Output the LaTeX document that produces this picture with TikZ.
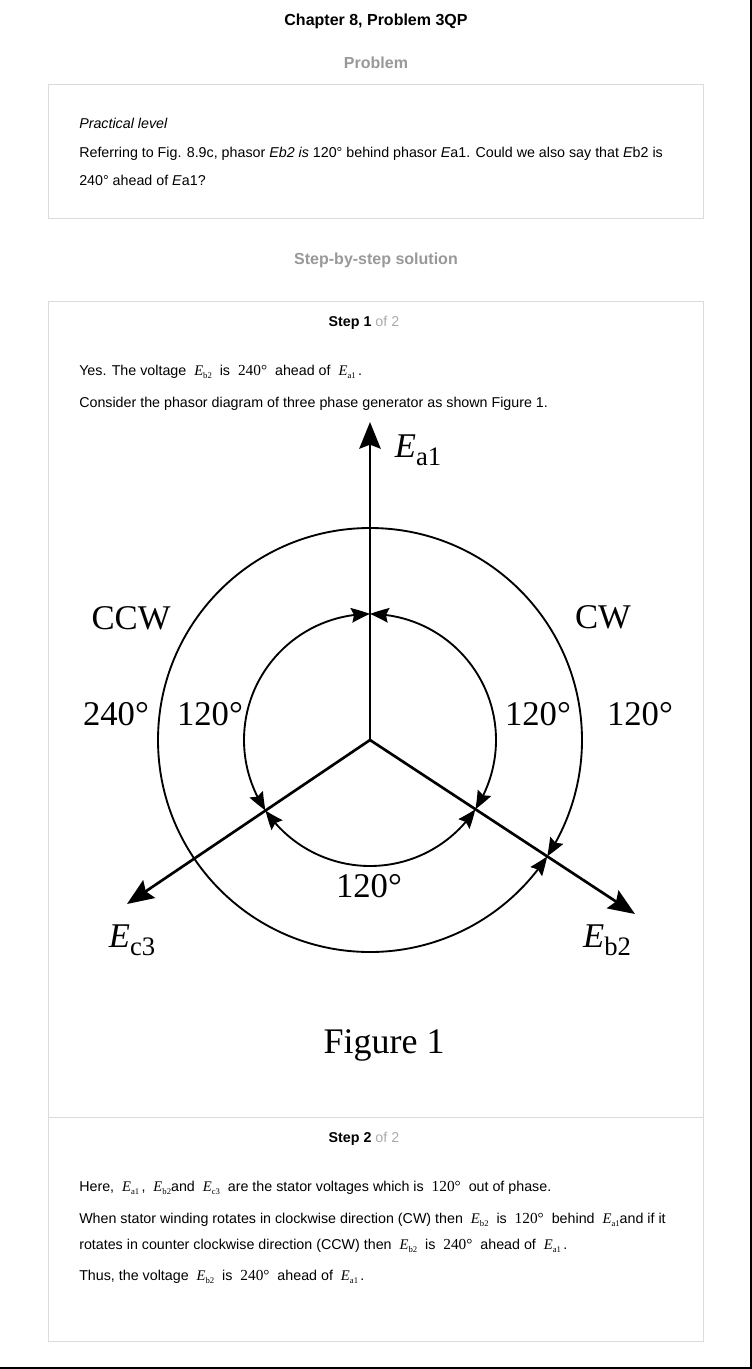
\documentclass[tikz,border=0pt]{standalone}
\usepackage{fontspec}
\setmainfont{Liberation Sans}
\newfontfamily\figfont{Liberation Serif}
\usetikzlibrary{arrows.meta,bending}
\newcommand{\boxcol}{black!14}
\newcommand{\headcol}{black!40}
\newcommand{\stepcol}{black!33}
\newcommand{\phlabel}[1]{\textit{E}\raisebox{-6pt}{\fontsize{20}{20}\selectfont #1}}
\newcommand{\inlE}[1]{{\figfont\fontsize{11}{11}\selectfont\textit{E}\raisebox{-2pt}{\fontsize{6.5}{6.5}\selectfont #1}}}
\newcommand{\inlang}[1]{{\figfont\fontsize{11.5}{11.5}\selectfont #1°}}

\begin{document}
\begin{tikzpicture}[x=0.75pt, y=0.75pt,
    body/.style={anchor=west, inner sep=0pt, font=\fontsize{10.7}{12}\selectfont},
    head/.style={inner sep=0pt, font=\bfseries\fontsize{12}{14}\selectfont},
    fig/.style={inner sep=0pt, font=\figfont\fontsize{26}{30}\selectfont},
    phasor/.style={line width=2pt, -{Stealth[length=20pt, width=16pt, inset=3pt]}},
    ring/.style={line width=1.4pt},
    >={Stealth[length=14pt, width=11pt, inset=2pt, bend]}]

    \fill[white] (0, 0) rectangle (752, -1369);
    \useasboundingbox (0, 0) rectangle (752, -1369);
    \draw[line width=1.5pt] (751, 0) -- (751, -1369);
    \draw[line width=1.5pt] (0, -1367.5) -- (752, -1367.5);

    % problem
    \node[head] (title) at (376, -21) {Chapter 8, Problem 3QP};
    \node[head, \headcol] (probhead) at (376, -63) {Problem};
    \draw[\boxcol] (48, -84) rectangle (703, -218);
    \node[body] (practical) at (79, -123) {\textit{Practical level}};
    \node[body] (refer1) at (79, -154) {Referring to Fig. 8.9c, phasor \textit{Eb2 is} 120° behind phasor \textit{E}a1. Could we also say that \textit{E}b2 is};
    \node[body] (refer2) at (79, -180) {240° ahead of \textit{E}a1?};

    % solution
    \node[head, \headcol] (solhead) at (376, -260) {Step-by-step solution};
    \draw[\boxcol] (48, -301) rectangle (703, -1341);
    \draw[\boxcol] (48, -1117) -- (703, -1117);
    \node[body, anchor=center] (step1) at (364, -323) {\textbf{Step 1} \textcolor{\stepcol}{of 2}};
    \node[body] (yes) at (79, -372) {Yes. The voltage \ \inlE{b2} \ is \ \inlang{240} \ ahead of \ \inlE{a1}\,.};
    \node[body] (consider) at (79, -404) {Consider the phasor diagram of three phase generator as shown Figure 1.};

    % phasor diagram
    \coordinate (o) at (370, -740);
    \coordinate (a1) at (370, -422);
    \coordinate (b2) at (635, -914);
    \coordinate (c3) at (127, -904);
    \coordinate (a1in) at ([shift={(90:126)}]o);
    \coordinate (c3in) at ([shift={(214:126)}]o);
    \coordinate (a1out) at ([shift={(90:212)}]o);

    \draw[ring, ->] (a1out) arc[start angle=90, end angle=-33.3, radius=212];
    \draw[ring, ->] (a1out) arc[start angle=90, end angle=326.7, radius=212];
    \draw[ring, <->] (a1in) arc[start angle=90, end angle=214, radius=126];
    \draw[ring, <->] (a1in) arc[start angle=90, end angle=-33.3, radius=126];
    \draw[ring, <->] (c3in) arc[start angle=214, end angle=326.7, radius=126];

    \draw[phasor] (o) -- (a1);
    \draw[phasor] (o) -- (b2);
    \draw[phasor] (o) -- (c3);

    \node[fig] (la1) at (418, -450) {\phlabel{a1}};
    \node[fig] (lb2) at (607, -940) {\phlabel{b2}};
    \node[fig] (lc3) at (132, -940) {\phlabel{c3}};
    \node[fig] (ccw) at (131, -618) {CCW};
    \node[fig] (cw) at (603, -617) {CW};
    \node[fig] (ang240) at (116, -714) {240°};
    \node[fig] (angl) at (210, -714) {120°};
    \node[fig] (angr) at (538, -714) {120°};
    \node[fig] (angrr) at (640, -714) {120°};
    \node[fig] (angb) at (369, -886) {120°};
    \node[fig, font=\figfont\fontsize{27}{30}\selectfont] (figcap) at (384, -1045) {Figure 1};

    % step 2
    \node[body, anchor=center] (step2) at (364, -1139) {\textbf{Step 2} \textcolor{\stepcol}{of 2}};
    \node[body] (here) at (79, -1188) {Here, \ \inlE{a1}\,, \ \inlE{b2}and \ \inlE{c3} \ are the stator voltages which is \ \inlang{120} \ out of phase.};
    \node[body] (when) at (79, -1220) {When stator winding rotates in clockwise direction (CW) then \ \inlE{b2} \ is \ \inlang{120} \ behind \ \inlE{a1}and if it};
    \node[body] (rot) at (79, -1246) {rotates in counter clockwise direction (CCW) then \ \inlE{b2} \ is \ \inlang{240} \ ahead of \ \inlE{a1}\,.};
    \node[body] (thus) at (79, -1277) {Thus, the voltage \ \inlE{b2} \ is \ \inlang{240} \ ahead of \ \inlE{a1}\,.};

\end{tikzpicture}
\end{document}
